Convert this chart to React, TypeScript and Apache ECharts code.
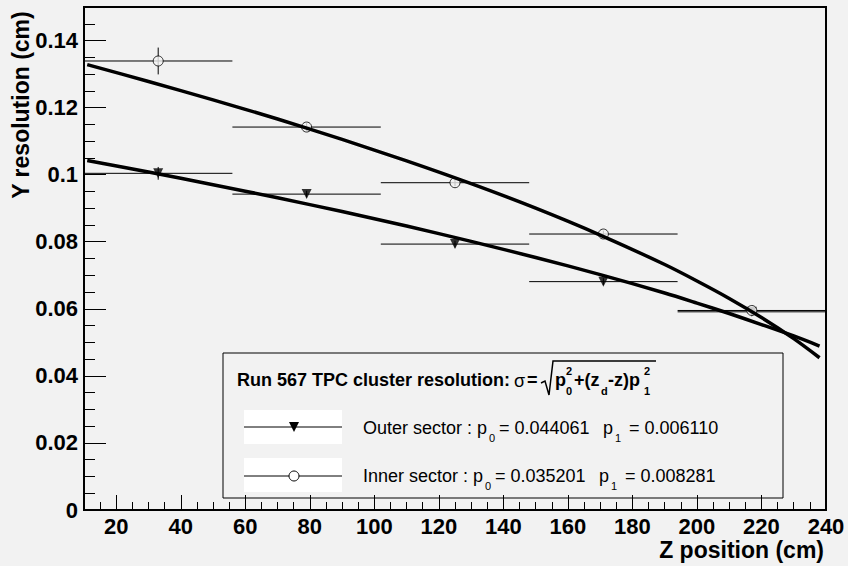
import React, { useEffect, useRef } from "react";
import * as echarts from "echarts";

// ---- data ----
const binLow = [10, 56, 102, 148, 194];
const binHigh = [56, 102, 148, 194, 240];
const zCenter = [33, 79, 125, 171, 217];

const outerRes = [0.1004, 0.0942, 0.0793, 0.0681, 0.0591];
const outerErr = [0.0019, 0.001, 0.001, 0.001, 0.001];
const innerRes = [0.1339, 0.1142, 0.0976, 0.0823, 0.0595];
const innerErr = [0.004, 0.0012, 0.001, 0.001, 0.001];

const fitZ = [11, 30, 50, 70, 90, 110, 130, 150, 170, 190, 200, 210, 220, 230, 238];
const outerFit = [0.1042, 0.1008, 0.097, 0.0931, 0.089, 0.0847, 0.0801, 0.0753, 0.0702, 0.0647, 0.0617, 0.0586, 0.0553, 0.0519, 0.0489];
const innerFit = [0.1328, 0.1278, 0.1223, 0.1166, 0.1105, 0.1041, 0.0973, 0.09, 0.082, 0.0732, 0.0683, 0.0631, 0.0574, 0.0511, 0.0454];

const xLabelValues = [20, 40, 60, 80, 100, 120, 140, 160, 180, 200, 220, 240];
const xMinorValues = [15, 20, 25, 30, 35, 40, 45, 50, 55, 60, 65, 70, 75, 80, 85, 90, 95, 100, 105, 110, 115, 120, 125, 130, 135, 140, 145, 150, 155, 160, 165, 170, 175, 180, 185, 190, 195, 200, 205, 210, 215, 220, 225, 230, 235];
const yLabelValues = [0, 0.02, 0.04, 0.06, 0.08, 0.1, 0.12, 0.14];
const yMinorValues = [0.005, 0.01, 0.015, 0.02, 0.025, 0.03, 0.035, 0.04, 0.045, 0.05, 0.055, 0.06, 0.065, 0.07, 0.075, 0.08, 0.085, 0.09, 0.095, 0.1, 0.105, 0.11, 0.115, 0.12, 0.125, 0.13, 0.135, 0.14, 0.145];

const headerText = "Run 567 TPC cluster resolution:";
const outerLabel = ["Outer sector : p", "0", "= 0.044061", "p", "1", "= 0.006110"];
const innerLabel = ["Inner sector : p", "0", "= 0.035201", "p", "1", "= 0.008281"];

const FONT = '"Liberation Sans", Arial, Helvetica, sans-serif';
const BG = "#f2f2f2";

function txt(text: string, x: number, y: number, size: number, bold: boolean, align = "left", family = FONT) {
  return {
    type: "text",
    x,
    y,
    style: {
      text,
      fontSize: size,
      fontWeight: bold ? "bold" : "normal",
      fontFamily: family,
      fill: "#000",
      align,
      verticalAlign: "middle",
    },
  };
}

function legendRow(parts: string[], y: number, shift: number) {
  const sub = y + 10;
  return [
    txt(parts[0], 363, y, 18, false),
    txt(parts[1], 489 - shift, sub, 11, false),
    txt(parts[2], 499 - shift, y, 18, false),
    txt(parts[3], 603 - shift, y, 18, false),
    txt(parts[4], 615 - shift, sub, 11, false),
    txt(parts[5], 629 - shift, y, 18, false),
  ];
}

function errorBarItem(params: any, api: any) {
  const x = api.value(0);
  const y = api.value(1);
  const lo = api.value(2);
  const hi = api.value(3);
  const e = api.value(4);
  const a = api.coord([lo, y]);
  const b = api.coord([hi, y]);
  const c = api.coord([x, y - e]);
  const d = api.coord([x, y + e]);
  return {
    type: "group",
    children: [
      { type: "line", shape: { x1: a[0], y1: a[1], x2: b[0], y2: b[1] }, style: { stroke: "#000", lineWidth: 1 } },
      { type: "line", shape: { x1: c[0], y1: c[1], x2: d[0], y2: d[1] }, style: { stroke: "#000", lineWidth: 1 } },
    ],
  };
}

const axisLabelStyle = { color: "#000", fontFamily: FONT, fontWeight: "bold", fontSize: 22 };

const option: any = {
  animation: false,
  backgroundColor: BG,
  grid: {
    left: 84,
    right: 22,
    top: 7,
    bottom: 56,
    show: true,
    borderColor: "#000",
    borderWidth: 2,
    backgroundColor: "transparent",
    outerBoundsMode: "none",
  },
  xAxis: [
    {
      type: "value",
      min: 10,
      max: 240,
      position: "bottom",
      axisLine: { show: false },
      splitLine: { show: false },
      axisTick: { show: true, inside: true, length: 15, customValues: xLabelValues, lineStyle: { color: "#000", width: 1 } },
      axisLabel: { ...axisLabelStyle, customValues: xLabelValues, margin: 5 },
    },
    {
      type: "value",
      min: 10,
      max: 240,
      position: "bottom",
      axisLine: { show: false },
      splitLine: { show: false },
      axisTick: { show: true, inside: true, length: 8, customValues: xMinorValues, lineStyle: { color: "#000", width: 1 } },
      axisLabel: { show: false },
    },
  ],
  yAxis: [
    {
      type: "value",
      min: 0,
      max: 0.15,
      position: "left",
      axisLine: { show: false },
      splitLine: { show: false },
      axisTick: { show: true, inside: true, length: 22, customValues: yLabelValues, lineStyle: { color: "#000", width: 1 } },
      axisLabel: { ...axisLabelStyle, customValues: yLabelValues, margin: 6 },
    },
    {
      type: "value",
      min: 0,
      max: 0.15,
      position: "left",
      axisLine: { show: false },
      splitLine: { show: false },
      axisTick: { show: true, inside: true, length: 11, customValues: yMinorValues, lineStyle: { color: "#000", width: 1 } },
      axisLabel: { show: false },
    },
  ],
  series: [
    {
      type: "custom",
      xAxisIndex: 0,
      yAxisIndex: 0,
      renderItem: errorBarItem,
      encode: { x: [0, 2, 3], y: 1 },
      data: zCenter.map((z, i) => [z, outerRes[i], binLow[i], binHigh[i], outerErr[i]]),
      z: 2,
    },
    {
      type: "custom",
      xAxisIndex: 0,
      yAxisIndex: 0,
      renderItem: errorBarItem,
      encode: { x: [0, 2, 3], y: 1 },
      data: zCenter.map((z, i) => [z, innerRes[i], binLow[i], binHigh[i], innerErr[i]]),
      z: 2,
    },
    {
      type: "scatter",
      symbol: "triangle",
      symbolRotate: 180,
      symbolSize: 10,
      itemStyle: { color: "#000" },
      data: zCenter.map((z, i) => [z, outerRes[i]]),
      z: 3,
    },
    {
      type: "scatter",
      symbol: "circle",
      symbolSize: 10,
      itemStyle: { color: BG, borderColor: "#000", borderWidth: 1 },
      data: zCenter.map((z, i) => [z, innerRes[i]]),
      z: 3,
    },
    {
      type: "line",
      showSymbol: false,
      symbol: "none",
      smooth: 0.3,
      lineStyle: { color: "#000", width: 3.5 },
      data: fitZ.map((z, i) => [z, outerFit[i]]),
      z: 4,
    },
    {
      type: "line",
      showSymbol: false,
      symbol: "none",
      smooth: 0.3,
      lineStyle: { color: "#000", width: 3.5 },
      data: fitZ.map((z, i) => [z, innerFit[i]]),
      z: 4,
    },
  ],
  graphic: [
    {
      type: "text",
      x: 21,
      y: 105,
      rotation: Math.PI / 2,
      style: { text: "Y resolution (cm)", fontSize: 23, fontWeight: "bold", fontFamily: FONT, fill: "#000", align: "center", verticalAlign: "middle" },
      z: 50,
    },
    {
      type: "text",
      x: 824,
      y: 550,
      style: { text: "Z position (cm)", fontSize: 23, fontWeight: "bold", fontFamily: FONT, fill: "#000", align: "right", verticalAlign: "middle" },
      z: 50,
    },
    {
      type: "group",
      z: 100,
      children: [
        { type: "rect", shape: { x: 223, y: 353, width: 560, height: 145 }, style: { fill: BG, stroke: "#000", lineWidth: 1 } },
        txt(headerText, 237, 380, 18, true),
        txt("σ", 514, 381, 18, false),
        txt("=", 527, 380, 18, true),
        {
          type: "polyline",
          shape: { points: [[541, 383], [545, 381], [549, 395], [553, 361], [656, 361]] },
          style: { stroke: "#000", lineWidth: 1.5, fill: null },
        },
        txt("p", 555, 380, 18, true),
        txt("2", 566, 371, 11, true),
        txt("0", 566, 391, 11, true),
        txt("+(z", 574, 380, 18, true),
        txt("d", 601, 391, 11, true),
        txt("-z)p", 608, 380, 18, true),
        txt("2", 644, 371, 11, true),
        txt("1", 644, 391, 11, true),
        { type: "rect", shape: { x: 244, y: 410, width: 98, height: 34 }, style: { fill: "#fff" } },
        { type: "line", shape: { x1: 244, y1: 427, x2: 342, y2: 427 }, style: { stroke: "#000", lineWidth: 1 } },
        { type: "polygon", shape: { points: [[289, 422], [299, 422], [294, 432]] }, style: { fill: "#000" } },
        { type: "rect", shape: { x: 244, y: 458, width: 98, height: 34 }, style: { fill: "#fff" } },
        { type: "line", shape: { x1: 244, y1: 476, x2: 342, y2: 476 }, style: { stroke: "#000", lineWidth: 1 } },
        { type: "circle", shape: { cx: 294, cy: 476, r: 5 }, style: { fill: "#fff", stroke: "#000", lineWidth: 1 } },
        ...legendRow(outerLabel, 428, 0),
        ...legendRow(innerLabel, 476, 4),
      ],
    },
  ],
};

export default function App() {
  const ref = useRef<HTMLDivElement>(null);
  useEffect(() => {
    const chart = echarts.init(ref.current!, null, { renderer: "svg" });
    chart.setOption(option);
    return () => chart.dispose();
  }, []);
  return <div ref={ref} style={{ position: "absolute", left: 0, top: 0, width: 848, height: 566 }} />;
}
